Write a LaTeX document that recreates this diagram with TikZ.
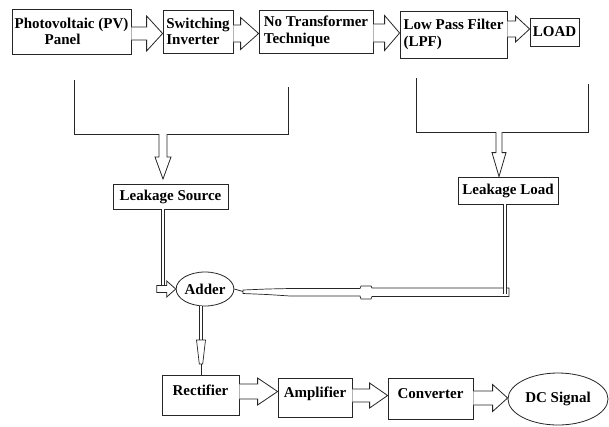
\documentclass[tikz,border=0pt]{standalone}
\usepackage{fontspec}
\setmainfont{Liberation Serif}
\usetikzlibrary{calc,shapes.geometric}
% horizontal block arrow: from node #1 east to node #2 west at y=#3, body half #4, head half #5, head length #6
\newcommand\harr[6]{%
  \draw[arr] ($(#1.east |- 0,#3)+(0,-#4)$) -- ($(#2.west |- 0,#3)+(-#6,-#4)$) -- ($(#2.west |- 0,#3)+(-#6,-#5)$)
    -- (#2.west |- 0,#3) -- ($(#2.west |- 0,#3)+(-#6,#5)$) -- ($(#2.west |- 0,#3)+(-#6,#4)$) -- ($(#1.east |- 0,#3)+(0,#4)$);}
% vertical block arrow: from coordinate #1 down to tip #2, body half #3, head half #4, head length #5
\newcommand\varr[5]{%
  \draw[arr] ($(#1)+(-#3,0)$) -- ($(#2)+(-#3,-#5)$) -- ($(#2)+(-#4,-#5)$) -- (#2)
    -- ($(#2)+(#4,-#5)$) -- ($(#2)+(#3,-#5)$) -- ($(#1)+(#3,0)$);}
\begin{document}
\begin{tikzpicture}[x=1pt,y=-1pt,
  box/.style={draw=black!85, line width=0.8pt, inner sep=0pt,
    font=\bfseries\fontsize{15}{16.5}\selectfont},
  ell/.style={box, ellipse},
  low/.style={text height=9pt, text depth=9pt},
  arr/.style={draw=black!85, line width=0.8pt, fill=white, line join=miter},
  dbl/.style={draw=black!85, line width=0.6pt, double=white, double distance=2.4pt},
  brk/.style={draw=black!85, line width=0.9pt}]
\useasboundingbox[fill=white] (0,0) rectangle (609,426);

% top row
\node[box, minimum width=119, minimum height=45, align=left] (pv) at (71.5,31.5)
  {Photovoltaic (PV)\\\hspace*{30pt}Panel};
\node[box, minimum width=70, minimum height=43, align=left] (si) at (198,31.5)
  {Switching\\Inverter};
\node[box, minimum width=114, minimum height=43, align=left] (nt) at (316,31.5)
  {No Transformer\\Technique};
\node[box, minimum width=107, minimum height=47, align=left] (lpf) at (453.5,34.5)
  {Low Pass Filter\\(LPF)};
\node[box, minimum width=49, minimum height=28] (load) at (554.5,32) {LOAD};

\harr{pv}{si}{33.5}{6.5}{17.5}{16}
\harr{si}{nt}{33.5}{8.5}{16}{18}
\harr{nt}{lpf}{33}{9}{17.5}{15}
\harr{lpf}{load}{29}{8}{13}{14}

% brackets
\coordinate (lbA) at (74,80);
\coordinate (lbB) at (288,87);
\coordinate (rbA) at (416,78);
\coordinate (rbB) at (588,84);
\draw[brk] (lbA) |- (lbB |- 0,134) -- (lbB);
\draw[brk] (rbA) |- (rbB |- 0,132) -- (rbB);

% leakage boxes
\node[box, minimum width=115, minimum height=25] (ls) at (170.5,196.5) {Leakage Source};
\node[box, minimum width=100, minimum height=27] (ll) at (508,190.5) {Leakage Load};

\coordinate (lstart) at (163,134);
\coordinate (ltip) at (163,179);
\coordinate (rstart) at (499,132);
\coordinate (rtip) at (ll.north -| 499,0);
\varr{lstart}{ltip}{4}{8}{22}
\varr{rstart}{rtip}{3}{7}{24}

% adder
\node[ell, minimum width=56, minimum height=34] (ad) at (205,289) {Adder};

% leakage source to adder
\draw[dbl] (ls.south -| 163,0) -- (163,288);
\draw[arr] ($(ad.west)+(-19,-3.5)$) -- ($(ad.west)+(-9,-3.5)$) -- ($(ad.west)+(-9,-8)$) -- (ad.west)
  -- ($(ad.west)+(-9,8)$) -- ($(ad.west)+(-9,3.5)$) -- ($(ad.west)+(-19,3.5)$) -- cycle;

% leakage load to adder
\coordinate (bandL) at (243,291.5);
\draw[draw=black!85, line width=0.8pt] (ad.east) -- (bandL);
\draw[arr, line width=0.7pt] (243,290) -- (267,289) -- (290,288.5) -- (360,288.5) -- (361,286) -- (371,286)
  -- (372,288) -- (509,288) -- (509,296.5) -- (372,296.5) -- (371,299) -- (361,299) -- (360,296)
  -- (290,296) -- (267,294.5) -- (243,293.5) -- cycle;
\draw[dbl] (ll.south -| 505,0) -- (505,294);

% bottom row
\node[box, low, minimum width=77, minimum height=40] (rect) at (200.5,395) {Rectifier};
\node[box, low, minimum width=74, minimum height=39] (amp) at (315,397.5) {Amplifier};
\node[box, low, minimum width=85, minimum height=41] (conv) at (430.5,398.5) {Converter};
\node[ell, minimum width=100, minimum height=52] (dc) at (558,399) {DC Signal};

% adder to rectifier
\coordinate (adb) at (ad.south -| 201,0);
\coordinate (arh) at (201,340);
\coordinate (art) at (201,364);
\draw[dbl] (adb) -- (arh);
\draw[arr, line width=0.7pt] ($(arh)+(-4.5,0)$) -- ($(arh)+(4.5,0)$) -- ($(art)+(1.7,0)$) -- ($(art)+(-1.7,0)$) -- cycle;
\draw[draw=black!85, line width=0.8pt] (art) -- (rect.north -| art);

\harr{rect}{amp}{391.5}{7.5}{13.5}{20}
\harr{amp}{conv}{395.5}{6.5}{12.5}{18}
\harr{conv}{dc}{398}{7}{13.5}{15}
\end{tikzpicture}
\end{document}
